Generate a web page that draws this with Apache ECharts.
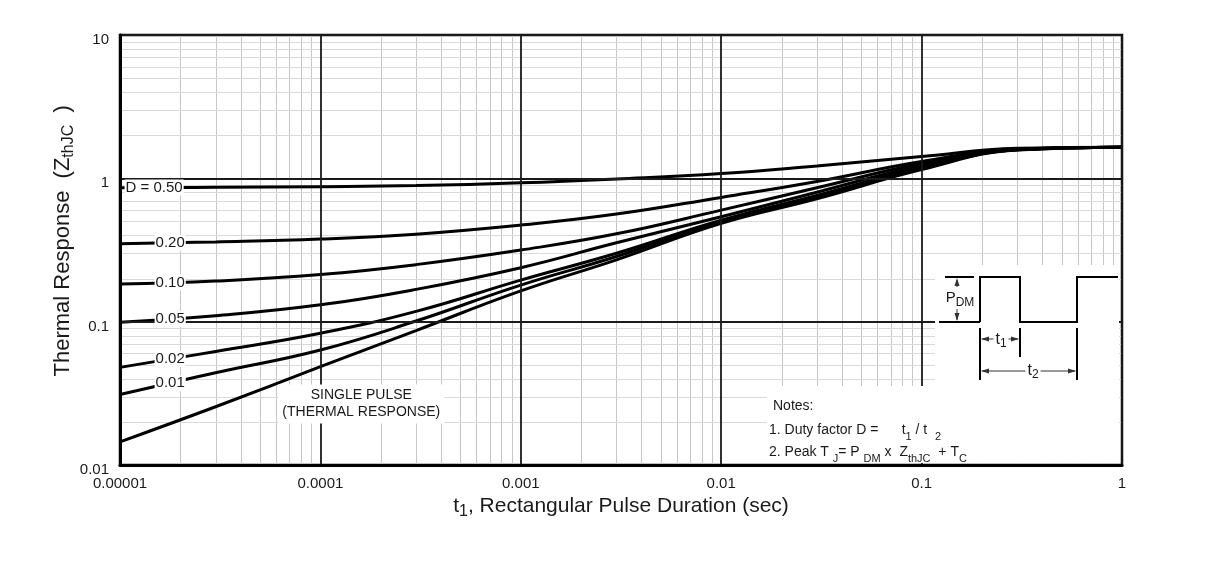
<!DOCTYPE html>
<html><head><meta charset="utf-8">
<script src="https://cdn.jsdelivr.net/npm/echarts@6/dist/echarts.min.js"></script>
<style>html,body{margin:0;padding:0;background:#fff}#c{width:1215px;height:574px}</style>
</head><body><div id="c"></div><script>
// ---------- data ----------
const xTickLabels = ['0.00001', '0.0001', '0.001', '0.01', '0.1', '1'];
const yTickLabels = ['0.01', '0.1', '1', '10'];
const xRange = [1e-5, 1];
const yRange = [0.01, 10];
const tPoints = [1e-5, 3e-5, 1e-4, 3e-4, 1e-3, 3e-3, 1e-2, 3e-2, 1e-1, 3e-1, 1];
const zD50    = [0.86, 0.865, 0.874, 0.89, 0.93, 0.99, 1.08, 1.22, 1.42, 1.62, 1.65];
const zD20    = [0.35, 0.36, 0.377, 0.408, 0.472, 0.563, 0.736, 0.95, 1.31, 1.60, 1.65];
const zD10    = [0.183, 0.192, 0.213, 0.25, 0.316, 0.41, 0.60, 0.86, 1.27, 1.595, 1.65];
const zD05    = [0.099, 0.11, 0.131, 0.168, 0.238, 0.355, 0.54, 0.80, 1.23, 1.59, 1.65];
const zD02    = [0.048, 0.062, 0.083, 0.118, 0.195, 0.30, 0.51, 0.76, 1.19, 1.585, 1.65];
const zD01    = [0.031, 0.044, 0.0634, 0.101, 0.18, 0.285, 0.50, 0.74, 1.17, 1.58, 1.65];
const zSingle = [0.0145, 0.0255, 0.0485, 0.0867, 0.164, 0.27, 0.485, 0.72, 1.15, 1.575, 1.65];
const curveLabels = ['D = 0.50', '0.20', '0.10', '0.05', '0.02', '0.01'];
const labelT = [1.48e-5, 1.78e-5, 1.78e-5, 1.78e-5, 1.78e-5, 1.78e-5];
const minorMultipliers = [2, 3, 4, 5, 6, 7, 8, 9];
const xDecades = [-5, -4, -3, -2, -1];
const yDecades = [-2, -1, 0];
const singleText = 'SINGLE PULSE\n(THERMAL RESPONSE)';
const singleTextAt = [1.6e-4, 0.0266];

// ---------- helpers ----------
const FONT = '"Liberation Sans", Arial, sans-serif';
const INK = '#1a1a1a';
function pairs(ys) { return tPoints.map((t, i) => [t, ys[i]]); }
function interpLog(ys, x) {
  const lx = Math.log10(x);
  for (let i = 0; i < tPoints.length - 1; i++) {
    const a = Math.log10(tPoints[i]), b = Math.log10(tPoints[i + 1]);
    if (lx >= a && lx <= b) {
      const f = (lx - a) / (b - a);
      return Math.pow(10, Math.log10(ys[i]) + f * (Math.log10(ys[i + 1]) - Math.log10(ys[i])));
    }
  }
  return ys[0];
}
const minorX = [], minorY = [];
xDecades.forEach(d => minorMultipliers.forEach(m => minorX.push(m * Math.pow(10, d))));
yDecades.forEach(d => minorMultipliers.forEach(m => minorY.push(m * Math.pow(10, d))));

function crisp(v) { return Math.round(v) + 0.5; }
const series = [
  {
    type: 'custom', silent: true, z: 1, data: minorX.map(v => [v, 1]), encode: { x: 0, y: 1 },
    renderItem: (params, api) => {
      const v = api.value(0);
      const a = api.coord([v, yRange[0]]), b = api.coord([v, yRange[1]]);
      const x = crisp(a[0]);
      return { type: 'line', shape: { x1: x, y1: a[1], x2: x, y2: b[1] }, style: { stroke: '#c6c6c6', lineWidth: 1 } };
    }
  },
  {
    type: 'custom', silent: true, z: 1, data: minorY.map(v => [1e-3, v]), encode: { x: 0, y: 1 },
    renderItem: (params, api) => {
      const v = api.value(1);
      const a = api.coord([xRange[0], v]), b = api.coord([xRange[1], v]);
      const y = crisp(a[1]);
      return { type: 'line', shape: { x1: a[0], y1: y, x2: b[0], y2: y }, style: { stroke: '#d9d9d9', lineWidth: 1 } };
    }
  }
];
const curves = [zD50, zD20, zD10, zD05, zD02, zD01];
curves.forEach((ys, i) => series.push({
  type: 'line', data: pairs(ys), showSymbol: false, smooth: 0.45, z: 2,
  lineStyle: { color: '#000', width: 3 }, silent: true,
  markPoint: {
    z: 10, silent: true, symbol: 'circle', symbolSize: 0,
    data: [{ coord: [labelT[i], interpLog(ys, labelT[i])] }],
    label: {
      show: true, position: 'inside', formatter: curveLabels[i], color: INK,
      fontSize: 15, fontFamily: FONT, backgroundColor: '#fff', padding: [1, 1, 0, 1]
    }
  }
}));
series.push({
  type: 'line', data: pairs(zSingle), showSymbol: false, smooth: 0.45, z: 2,
  lineStyle: { color: '#000', width: 3 }, silent: true,
  markPoint: {
    z: 10, silent: true, symbol: 'circle', symbolSize: 0,
    data: [{ coord: singleTextAt }],
    label: {
      show: true, position: 'inside', formatter: singleText, color: INK, align: 'center',
      fontSize: 14, lineHeight: 17, fontFamily: FONT, backgroundColor: '#fff', padding: [3, 4, 2, 4]
    }
  }
});

// ---------- inset drawing (pixel layout) ----------
const LW = { stroke: '#000', lineWidth: 2 };
const THIN = { stroke: '#333', lineWidth: 1 };
function ln(x1, y1, x2, y2, st) { return { type: 'line', z: 101, silent: true, shape: { x1, y1, x2, y2 }, style: st }; }
function tri(pts) { return { type: 'polygon', z: 101, silent: true, shape: { points: pts }, style: { fill: '#333' } }; }
function txt(x, y, text, extra) {
  return {
    type: 'text', z: 102, silent: true, x, y,
    style: Object.assign({
      text, fontFamily: FONT, fontSize: 14, fill: INK, align: 'left', verticalAlign: 'middle',
      rich: {
        n: { fontSize: 14, fontFamily: FONT, fill: INK, lineHeight: 24 },
        s: { fontSize: 11, fontFamily: FONT, fill: INK, lineHeight: 14, verticalAlign: 'bottom' }
      }
    }, extra || {})
  };
}
const graphics = [
  { type: 'rect', z: 100, silent: true, shape: { x: 935, y: 265, width: 184, height: 122 }, style: { fill: '#fff' } },
  { type: 'rect', z: 100, silent: true, shape: { x: 767, y: 386, width: 352, height: 77 }, style: { fill: '#fff' } },
  ln(945, 277, 974, 277, LW),
  ln(939, 322, 980, 322, LW),
  { type: 'polyline', z: 101, silent: true, shape: { points: [[980, 322], [980, 277], [1020, 277], [1020, 322], [1077, 322], [1077, 277], [1118, 277]] }, style: { stroke: '#000', lineWidth: 2, fill: null } },
  ln(980, 328, 980, 380, LW), ln(1020, 328, 1020, 357, LW), ln(1077, 328, 1077, 380, LW),
  ln(957, 280, 957, 320, THIN), tri([[957, 278], [954.5, 286], [959.5, 286]]), tri([[957, 321], [954.5, 313], [959.5, 313]]),
  ln(982, 339, 1018, 339, THIN), tri([[981, 339], [989, 336.5], [989, 341.5]]), tri([[1019, 339], [1011, 336.5], [1011, 341.5]]),
  ln(982, 371, 1075, 371, THIN), tri([[981, 371], [989, 368.5], [989, 373.5]]), tri([[1076, 371], [1068, 368.5], [1068, 373.5]]),
  txt(960, 298, '{p|P}{d|DM}', { align: 'center', backgroundColor: '#fff', padding: [0, 1], rich: {
    p: { fontSize: 15, fontFamily: FONT, fill: INK, lineHeight: 22 },
    d: { fontSize: 12, fontFamily: FONT, fill: INK, lineHeight: 13, verticalAlign: 'bottom' } } }),
  txt(1001, 340, '{p|t}{d|1}', { align: 'center', backgroundColor: '#fff', padding: [0, 2], rich: {
    p: { fontSize: 16, fontFamily: FONT, fill: INK, lineHeight: 20 },
    d: { fontSize: 12, fontFamily: FONT, fill: INK, lineHeight: 12, verticalAlign: 'bottom' } } }),
  txt(1033, 371, '{p|t}{d|2}', { align: 'center', backgroundColor: '#fff', padding: [0, 2], rich: {
    p: { fontSize: 16, fontFamily: FONT, fill: INK, lineHeight: 20 },
    d: { fontSize: 12, fontFamily: FONT, fill: INK, lineHeight: 12, verticalAlign: 'bottom' } } }),
  txt(773, 406, '{n|Notes:}'),
  txt(769, 430, '{n|1. Duty factor D =      t}{s|1}{n| / t  }{s|2}'),
  txt(769, 452, '{n|2. Peak T }{s|J}{n|= P }{s|DM}{n| x  Z}{s|thJC}{n|  + T}{s|C}')
];

// ---------- chart ----------
const chart = echarts.init(document.getElementById('c'), null, { renderer: 'canvas' });
chart.setOption({
  animation: false,
  backgroundColor: '#fff',
  grid: { left: 120, right: 93, top: 35, bottom: 109, containLabel: false, outerBoundsMode: 'none',
          show: true, borderColor: '#000', borderWidth: 2.5, backgroundColor: '#fff' },
  xAxis: {
    type: 'log', logBase: 10, min: xRange[0], max: xRange[1], interval: 1, z: 6,
    axisLine: { show: true, onZero: false, lineStyle: { color: '#000', width: 3 } },
    axisTick: { show: false },
    splitLine: { show: true, lineStyle: { color: '#1a1a1a', width: 1.8 } },
    minorTick: { show: false }, minorSplitLine: { show: false },
    axisLabel: { color: INK, fontSize: 15, fontFamily: FONT, margin: 11,
      formatter: v => xTickLabels[Math.round(Math.log10(v)) + 5] },
    name: '{n|t}{s|1}{n|, Rectangular Pulse Duration (sec)}',
    nameLocation: 'middle', nameGap: 27, nameMoveOverlap: false,
    nameTextStyle: { rich: {
      n: { fontSize: 21, fontFamily: FONT, color: INK, lineHeight: 28 },
      s: { fontSize: 16, fontFamily: FONT, color: INK, lineHeight: 17, verticalAlign: 'bottom' } } }
  },
  yAxis: {
    type: 'log', logBase: 10, min: yRange[0], max: yRange[1], interval: 1, z: 6,
    axisLine: { show: true, onZero: false, lineStyle: { color: '#000', width: 3 } },
    axisTick: { show: false },
    splitLine: { show: true, lineStyle: { color: '#1a1a1a', width: 1.8 } },
    minorTick: { show: false }, minorSplitLine: { show: false },
    axisLabel: { color: INK, fontSize: 15, fontFamily: FONT, margin: 11, verticalAlign: 'top', lineHeight: 10,
      formatter: v => yTickLabels[Math.round(Math.log10(v)) + 2] },
    name: '{n|   Thermal Response  (Z}{s|thJC}{n|  )}',
    nameLocation: 'middle', nameGap: 43, nameMoveOverlap: false,
    nameTextStyle: { rich: {
      n: { fontSize: 22, fontFamily: FONT, color: INK, lineHeight: 28 },
      s: { fontSize: 16, fontFamily: FONT, color: INK, lineHeight: 17, verticalAlign: 'bottom' } } }
  },
  series: series,
  graphic: { elements: graphics }
});
</script></body></html>
